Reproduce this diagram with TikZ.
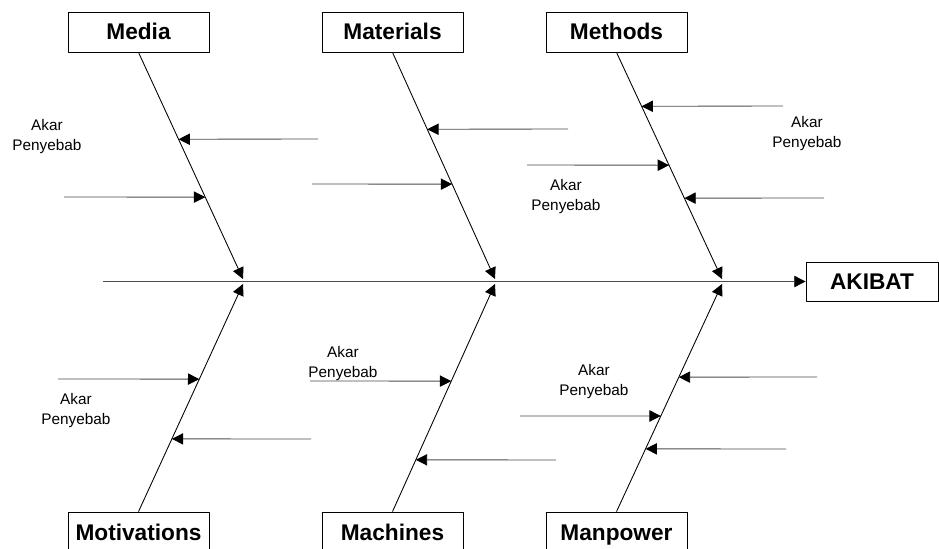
\documentclass[tikz,border=0pt]{standalone}
\usepackage{fontspec}
\setmainfont{Liberation Sans}
\usetikzlibrary{arrows.meta,calc}
\tikzset{
  category/.style={draw,line width=0.6pt,minimum width=105.75pt,minimum height=30pt,inner sep=0pt,
    text height=13pt,text depth=1pt,font=\bfseries\fontsize{17}{20}\selectfont},
  root/.style={align=center,inner sep=0pt,font=\fontsize{11.5}{15}\selectfont},
  bone/.style={line width=0.65pt,-{Triangle[length=8.5pt,width=8.5pt,color=black]}},
  rootarrow/.style={line width=0.65pt,black!70,-{Triangle[length=8.5pt,width=8.5pt,color=black]}},
}
\begin{document}
\begin{tikzpicture}[x=0.75pt,y=-0.75pt,line join=round]
  \useasboundingbox (0,0) rectangle (939,549);
  \clip (0,0) rectangle (939,549);
  % boxes
  \node[category] (media) at (138.5,32) {Media};
  \node[category] (materials) at (392.5,32) {Materials};
  \node[category] (methods) at (616.5,32) {Methods};
  \node[category] (motivations) at (138.5,532) {Motivations};
  \node[category] (machines) at (392.5,532) {Machines};
  \node[category] (manpower) at (616.5,532) {Manpower};
  \node[category,minimum width=99pt,minimum height=29.25pt] (akibat) at (872,281.5) {AKIBAT};
  % spine
  \coordinate (tail) at (103,281.5);
  \coordinate (jm) at (243,279);   \coordinate (jmb) at (243,284);
  \coordinate (jt) at (495,279);   \coordinate (jtb) at (495,284);
  \coordinate (jh) at (722,279);   \coordinate (jhb) at (722,284);
  \draw[bone,black!70] (tail) -- (akibat.west);
  % bones
  \draw[bone] (media.south) -- (jm);
  \draw[bone] (materials.south) -- (jt);
  \draw[bone] (methods.south) -- (jh);
  \draw[bone] (motivations.north) -- (jmb);
  \draw[bone] (machines.north) -- (jtb);
  \draw[bone] (manpower.north) -- (jhb);
  % root causes
  \draw[rootarrow] (318,139) -- ($(media.south)!0.3833!(jm)$);
  \draw[rootarrow] (64,197) -- ($(media.south)!0.6388!(jm)$);
  \draw[rootarrow] (568,129) -- ($(materials.south)!0.3392!(jt)$);
  \draw[rootarrow] (312,184) -- ($(materials.south)!0.5815!(jt)$);
  \draw[rootarrow] (783,106) -- ($(methods.south)!0.2379!(jh)$);
  \draw[rootarrow] (527,165) -- ($(methods.south)!0.4978!(jh)$);
  \draw[rootarrow] (824,198) -- ($(methods.south)!0.6432!(jh)$);
  \draw[rootarrow] (58,379) -- ($(motivations.north)!0.5821!(jmb)$);
  \draw[rootarrow] (311,439) -- ($(motivations.north)!0.3195!(jmb)$);
  \draw[rootarrow] (310,381) -- ($(machines.north)!0.5733!(jtb)$);
  \draw[rootarrow] (556,460) -- ($(machines.north)!0.2276!(jtb)$);
  \draw[rootarrow] (817,377) -- ($(manpower.north)!0.5908!(jhb)$);
  \draw[rootarrow] (520,416) -- ($(manpower.north)!0.4201!(jhb)$);
  \draw[rootarrow] (786,449) -- ($(manpower.north)!0.2757!(jhb)$);
  % labels
  \node[root] (r1) at (47,137) {Akar\\Penyebab};
  \node[root] (r2) at (807,134) {Akar\\Penyebab};
  \node[root] (r3) at (566,197) {Akar\\Penyebab};
  \node[root] (r4) at (76,411) {Akar\\Penyebab};
  \node[root] (r5) at (343,364) {Akar\\Penyebab};
  \node[root] (r6) at (594,382) {Akar\\Penyebab};
\end{tikzpicture}
\end{document}
